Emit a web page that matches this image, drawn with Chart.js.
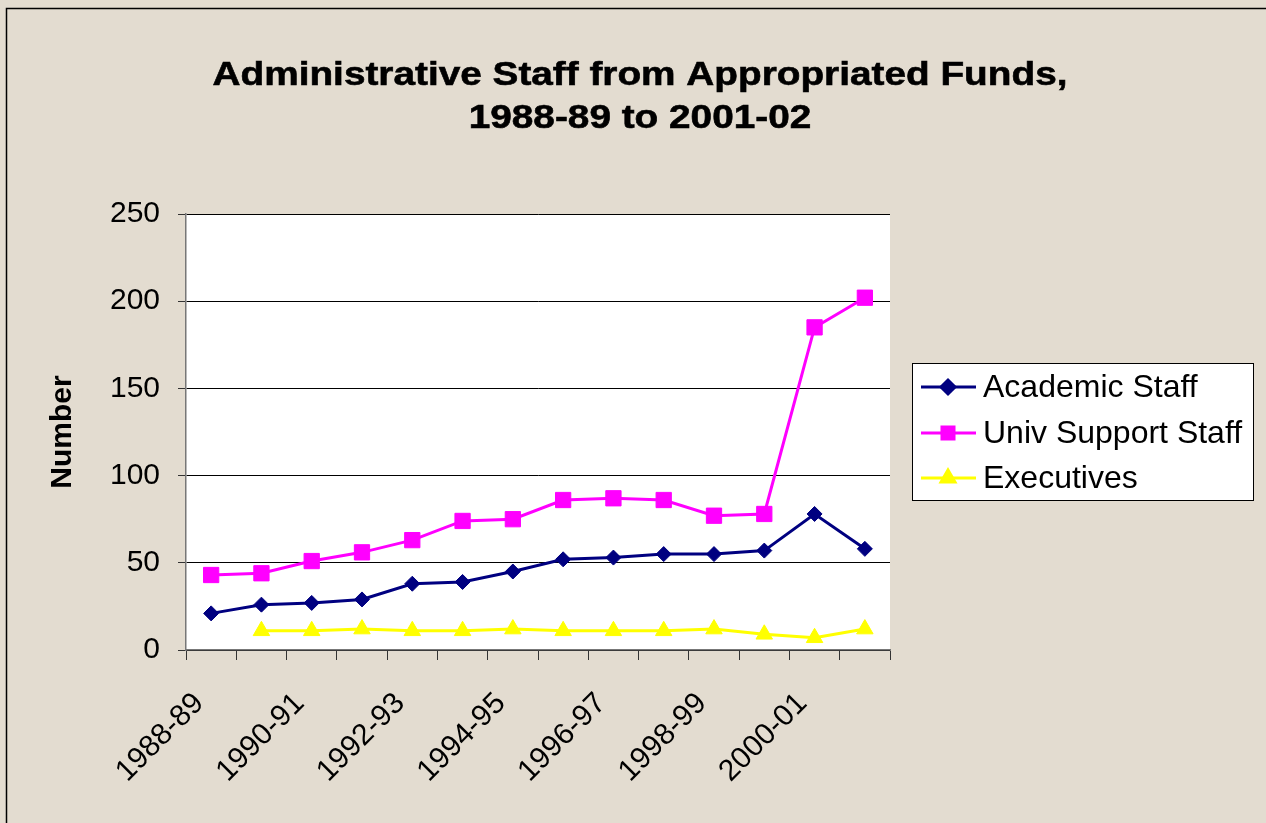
<!DOCTYPE html>
<html>
<head>
<meta charset="utf-8">
<script src="https://cdn.jsdelivr.net/npm/chart.js@4"></script>
<style>
  body { margin: 0; background: #e3dcd0; }
  canvas { display: block; }
</style>
</head>
<body>
<canvas id="canvas_staff" width="1266" height="823"></canvas>
<script>
var years = ["1988-89", "1989-90", "1990-91", "1991-92", "1992-93", "1993-94", "1994-95",
             "1995-96", "1996-97", "1997-98", "1998-99", "1999-00", "2000-01", "2001-02"];
var academicStaff = [21, 26, 27, 29, 38, 39, 45, 52, 53, 55, 55, 57, 78, 58];
var supportStaff = [43, 44, 51, 56, 63, 74, 75, 86, 87, 86, 77, 78, 185, 202];
var executives = [null, 11, 11, 12, 11, 11, 12, 11, 11, 11, 12, 9, 7, 12];
var yTicks = [0, 50, 100, 150, 200, 250];
var titleLines = ["Administrative Staff from Appropriated Funds,", "1988-89 to 2001-02"];

var FONT = '"Liberation Sans", Arial, sans-serif';

// page background, frame and white plot area
var backdrop = {
  id: 'backdrop',
  beforeDraw: function (chart) {
    var c = chart.ctx, a = chart.chartArea;
    c.save();
    c.fillStyle = '#e3dcd0';
    c.fillRect(0, 0, chart.width, chart.height);
    c.strokeStyle = '#000';
    c.lineWidth = 1.5;
    c.strokeRect(6.5, 8.5, chart.width + 10, chart.height + 10);
    c.fillStyle = '#fff';
    c.fillRect(a.left, a.top, a.right - a.left, a.bottom - a.top);
    c.restore();
  }
};

// two line title, stretched wide like the original
var bigTitle = {
  id: 'bigTitle',
  afterDraw: function (chart) {
    var c = chart.ctx;
    c.save();
    c.font = 'bold 34px ' + FONT;
    c.fillStyle = '#000';
    c.strokeStyle = '#000';
    c.lineWidth = 0.6;
    c.textAlign = 'center';
    c.textBaseline = 'alphabetic';
    var base = [85, 128];
    for (var i = 0; i < titleLines.length; i++) {
      c.save();
      c.translate(640, base[i]);
      c.scale(1.14, 1);
      c.fillText(titleLines[i], 0, 0);
      c.strokeText(titleLines[i], 0, 0);
      c.restore();
    }
    c.restore();
  }
};

// boxed legend: line with marker, then label
var boxLegend = {
  id: 'boxLegend',
  afterDraw: function (chart) {
    var c = chart.ctx;
    c.save();
    c.fillStyle = '#fff';
    c.fillRect(912, 363, 342, 138);
    c.strokeStyle = '#000';
    c.lineWidth = 1;
    c.strokeRect(912.5, 363.5, 341, 137);
    var rows = [387, 433, 478];
    var sizes = [7, 8.5, 8];
    chart.data.datasets.forEach(function (ds, i) {
      var y = rows[i];
      c.strokeStyle = ds.borderColor;
      c.lineWidth = 3;
      c.beginPath();
      c.moveTo(921, y);
      c.lineTo(976, y);
      c.stroke();
      c.fillStyle = ds.pointBackgroundColor;
      c.strokeStyle = ds.borderColor;
      Chart.helpers.drawPoint(c, { pointStyle: ds.pointStyle, radius: sizes[i], rotation: 0, borderWidth: 1 }, 948, y);
      c.fillStyle = '#000';
      c.font = '32px ' + FONT;
      c.textAlign = 'left';
      c.textBaseline = 'middle';
      c.fillText(ds.label, 983, y + 1);
    });
    c.restore();
  }
};

var ctx = document.getElementById("canvas_staff");
var staffChart = new Chart(ctx, {
  type: 'line',
  data: {
    labels: years,
    datasets: [
      {
        label: "Academic Staff",
        data: academicStaff,
        borderColor: "#000080",
        backgroundColor: "#000080",
        pointBackgroundColor: "#000080",
        pointStyle: 'rectRot',
        pointRadius: 7.5,
        borderWidth: 3,
        pointBorderWidth: 1,
        fill: false
      }, {
        label: "Univ Support Staff",
        data: supportStaff,
        borderColor: "#ff00ff",
        backgroundColor: "#ff00ff",
        pointBackgroundColor: "#ff00ff",
        pointStyle: 'rect',
        pointRadius: 10.8,
        borderWidth: 3,
        pointBorderWidth: 1,
        fill: false
      }, {
        label: "Executives",
        data: executives,
        borderColor: "#ffff00",
        backgroundColor: "#ffff00",
        pointBackgroundColor: "#ffff00",
        pointStyle: 'triangle',
        pointRadius: 9.5,
        borderWidth: 3,
        pointBorderWidth: 1,
        fill: false
      }
    ]
  },
  options: {
    responsive: false,
    animation: false,
    devicePixelRatio: 1,
    layout: { padding: { top: 214, right: 376, left: 0, bottom: 0 } },
    plugins: {
      legend: { display: false },
      title: { display: false },
      tooltip: { enabled: false }
    },
    scales: {
      x: {
        type: 'category',
        offset: true,
        afterFit: function (s) { s.height = 173; },
        grid: {
          offset: true,
          drawOnChartArea: false,
          drawTicks: true,
          tickLength: 10,
          color: '#333',
          tickColor: '#333'
        },
        border: { color: '#777', width: 1.5 },
        ticks: {
          autoSkip: false,
          maxRotation: 45,
          minRotation: 45,
          padding: 26,
          labelOffset: -12,
          color: '#000',
          font: { family: FONT, size: 30 },
          callback: function (v, i) { return i % 2 === 0 ? years[i] : ''; }
        }
      },
      y: {
        min: 0,
        max: 250,
        afterFit: function (s) { s.width = 186; },
        afterBuildTicks: function (s) { s.ticks = yTicks.map(function (v) { return { value: v }; }); },
        grid: {
          color: '#000',
          tickColor: '#333',
          tickLength: 8,
          lineWidth: 1
        },
        border: { color: '#777', width: 1.5 },
        ticks: {
          padding: 18,
          color: '#000',
          font: { family: FONT, size: 30 }
        },
        title: {
          display: true,
          text: 'Number',
          color: '#000',
          font: { family: FONT, size: 30, weight: 'bold' },
          padding: { top: 45, bottom: 0 }
        }
      }
    }
  },
  plugins: [backdrop, bigTitle, boxLegend]
});
</script>
</body>
</html>
